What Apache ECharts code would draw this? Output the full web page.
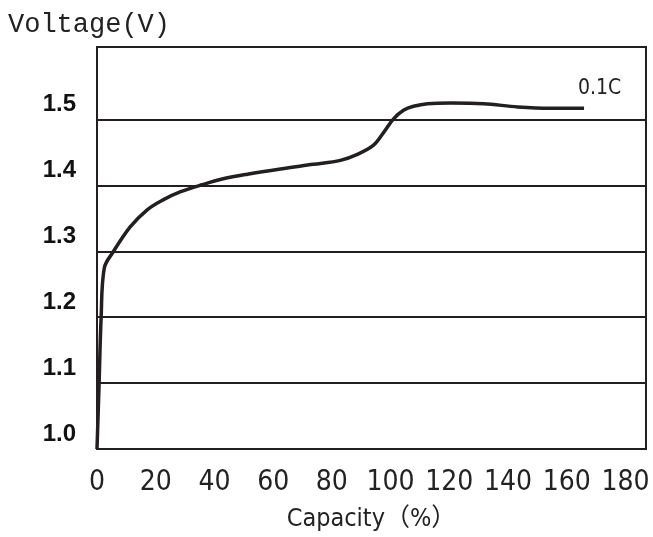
<!DOCTYPE html>
<html>
<head>
<meta charset="utf-8">
<style>
  html, body { margin: 0; padding: 0; background: #ffffff; }
  #chart { width: 653px; height: 537px; }
</style>
<script src="https://cdn.jsdelivr.net/npm/echarts@6/dist/echarts.min.js"></script>
</head>
<body>
<div id="chart"></div>
<script>
// Capacity (%) and voltage (V)
const capacity = [0, 0.7, 1.4, 2.5, 5.5, 11.3, 17.1, 22.5, 28.3, 35.8, 43.0, 51.2, 62.5, 73.7, 82.9, 88.7, 94.2, 97.6, 101.0, 104.4, 107.8, 112.6, 120.5, 131.7, 143.3, 154.6, 165.9];
const voltage  = [1.0, 1.097, 1.199, 1.275, 1.299, 1.337, 1.363, 1.378, 1.390, 1.401, 1.410, 1.417, 1.425, 1.432, 1.438, 1.447, 1.461, 1.480, 1.501, 1.514, 1.520, 1.524, 1.525, 1.524, 1.519, 1.517, 1.517];
const yTicks = [1.0, 1.1, 1.2, 1.3, 1.4, 1.5];
const seriesName = '0.1C';
const yTitle = 'Voltage(V)';
const xTitle = 'Capacity（%）';

const points = capacity.map((c, i) => [c, voltage[i]]);
const ink = '#231f20';
const narrow = '"Liberation Sans Narrow", "DejaVu Sans Condensed", "Noto Sans CJK SC", sans-serif';

const chart = echarts.init(document.getElementById('chart'), null, { renderer: 'canvas' });
chart.setOption({
  backgroundColor: '#ffffff',
  animation: false,
  title: {
    text: yTitle,
    left: 3,
    top: 6,
    textStyle: { fontFamily: '"Liberation Mono", "DejaVu Sans Mono", monospace', fontWeight: 'normal', fontSize: 27, color: '#222' }
  },
  grid: {
    left: 97, right: 7, top: 47, bottom: 88,
    show: true, borderColor: ink, borderWidth: 2, backgroundColor: 'transparent'
  },
  xAxis: {
    type: 'value',
    min: 0, max: 187, interval: 20,
    name: xTitle,
    nameLocation: 'middle',
    nameGap: 58,
    nameTextStyle: { fontFamily: narrow, fontSize: 25, color: '#222' },
    axisLine: { show: true, lineStyle: { color: ink, width: 2 } },
    axisTick: { show: false },
    splitLine: { show: false },
    axisLabel: {
      showMaxLabel: false,
      margin: 20,
      fontFamily: narrow, fontSize: 28, color: '#222'
    }
  },
  yAxis: {
    type: 'value',
    min: 1.0, max: 1.61, interval: 0.1,
    axisLine: { show: true, lineStyle: { color: ink, width: 2 } },
    axisTick: { show: false, customValues: yTicks },
    splitLine: { show: true, lineStyle: { color: ink, width: 2 } },
    axisLabel: {
      customValues: yTicks,
      margin: 21,
      verticalAlign: 'bottom',
      lineHeight: 24,
      padding: [0, 0, 3, 0],
      fontFamily: '"Liberation Sans", Arial, sans-serif',
      fontWeight: 'bold', fontSize: 24, color: '#111',
      formatter: v => v.toFixed(1)
    }
  },
  series: [{
    name: seriesName,
    type: 'line',
    data: points,
    showSymbol: false,
    smooth: 0.35,
    lineStyle: { color: ink, width: 3.5 },
    endLabel: {
      show: true,
      formatter: seriesName,
      offset: [-14, -20],
      fontFamily: narrow, fontSize: 21, color: '#222'
    }
  }]
});
</script>
</body>
</html>
